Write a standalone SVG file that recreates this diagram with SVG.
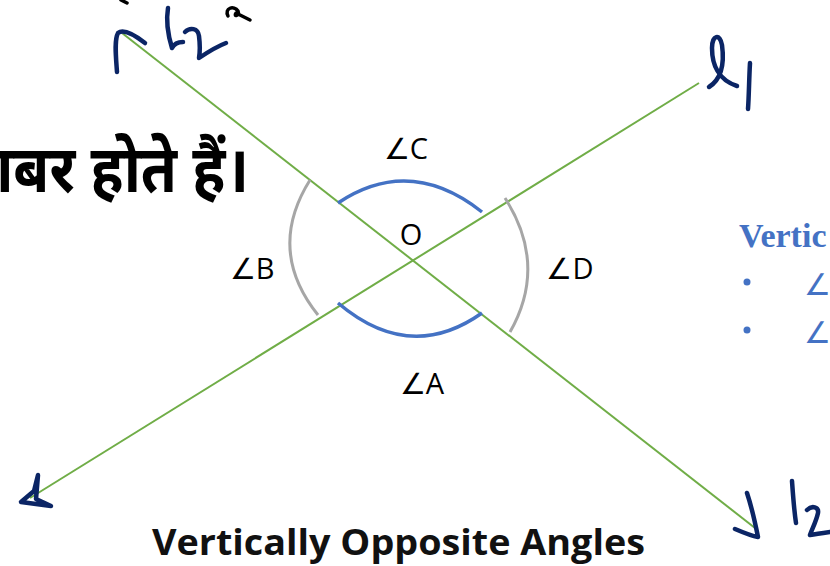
<svg xmlns="http://www.w3.org/2000/svg" width="830" height="566" viewBox="0 0 830 566">
<style>
.ln{stroke:#70ad47;stroke-width:2;fill:none}
.blue{stroke:#4472c4;stroke-width:3.5;fill:none}
.gray{stroke:#a6a6a6;stroke-width:3;fill:none}
.ink{stroke:#0b2565;stroke-width:4.5;fill:none;stroke-linecap:round;stroke-linejoin:round}
.blk{stroke:#000;stroke-width:3.5;fill:none;stroke-linecap:round;stroke-linejoin:round}
.lbl{font-family:"Open Sans","Noto Sans",sans-serif;font-size:29px;fill:#000}
</style>
<rect width="830" height="566" fill="#fff"/>
<g id="hindi"><text transform="translate(249,192) scale(1.17,1.3)" x="0" y="0" text-anchor="end" font-family="'Noto Sans Devanagari','Noto Sans','Lohit Devanagari',sans-serif" font-weight="bold" font-size="50" fill="#000">बराबर होते हैं।</text></g>
<g id="side-text" fill="#4472c4">
<text x="739" y="247" font-family="'Liberation Serif',serif" font-weight="bold" font-size="34">Vertic</text>
<circle cx="747" cy="282" r="3.5"/>
<circle cx="747" cy="330" r="3.5"/>
<text x="804" y="295" font-family="'Open Sans',sans-serif" font-size="30">∠</text>
<text x="804" y="343" font-family="'Open Sans',sans-serif" font-size="30">∠</text>
</g>
<g id="connectors">
<line class="ln" x1="122" y1="33" x2="755" y2="528"/>
<line class="ln" x1="699" y1="83" x2="30" y2="498"/>
</g>
<g id="arcs">
<path class="blue" d="M338,203 Q410,155 482,212"/>
<path class="blue" d="M338,303 Q410,364 482,313"/>
<path class="gray" d="M310,180 Q266,250 318,315"/>
<path class="gray" d="M505,198 Q548,265 510,332"/>
</g>
<g id="labels">
<text class="lbl" x="406" y="159" text-anchor="middle">∠C</text>
<text class="lbl" x="411" y="245" text-anchor="middle">O</text>
<text class="lbl" x="252" y="279" text-anchor="middle">∠B</text>
<text class="lbl" x="570" y="279" text-anchor="middle">∠D</text>
<text class="lbl" x="422" y="394" text-anchor="middle">∠A</text>
</g>
<g id="title"><text x="152" y="555" textLength="493" lengthAdjust="spacingAndGlyphs" font-family="'Open Sans',sans-serif" font-weight="bold" font-size="36" fill="#111">Vertically Opposite Angles</text></g>
<g id="handwriting">
<path class="ink" d="M117,72 C116,58 114,40 118,33 C124,28 136,36 145,43"/>
<path class="ink" d="M168,8 C166,20 168,35 172,48 C174,44 178,42 183,42"/>
<path class="ink" d="M185,32 C190,27 198,28 199,36 C200,44 200,52 199,58 C208,52 218,46 226,43"/>
<path class="blk" d="M121,0 L127,3"/>
<path class="blk" d="M228,16 C224,8 234,5 238,11 C240,16 233,17 236,13 C240,15 246,18 250,20"/>
<path class="ink" d="M709,87 C720,80 725,67 722,45 C720,33 712,35 712,48 C712,64 718,80 737,86"/>
<path class="ink" d="M750,63 C749,80 749,95 748,109"/>
<path class="ink" d="M735,529 C742,532 752,536 758,537 C755,522 751,505 747,493"/>
<path class="ink" d="M792,481 C793,495 794,510 796,523"/>
<path class="ink" d="M807,510 C812,505 819,507 818,513 C816,522 812,529 810,535 C816,534 823,533 830,532"/>
<path class="ink" d="M38,475 L34,491 L21,502 L51,506 L36,499 Z" fill="#0b2565"/>
</g>
</svg>
